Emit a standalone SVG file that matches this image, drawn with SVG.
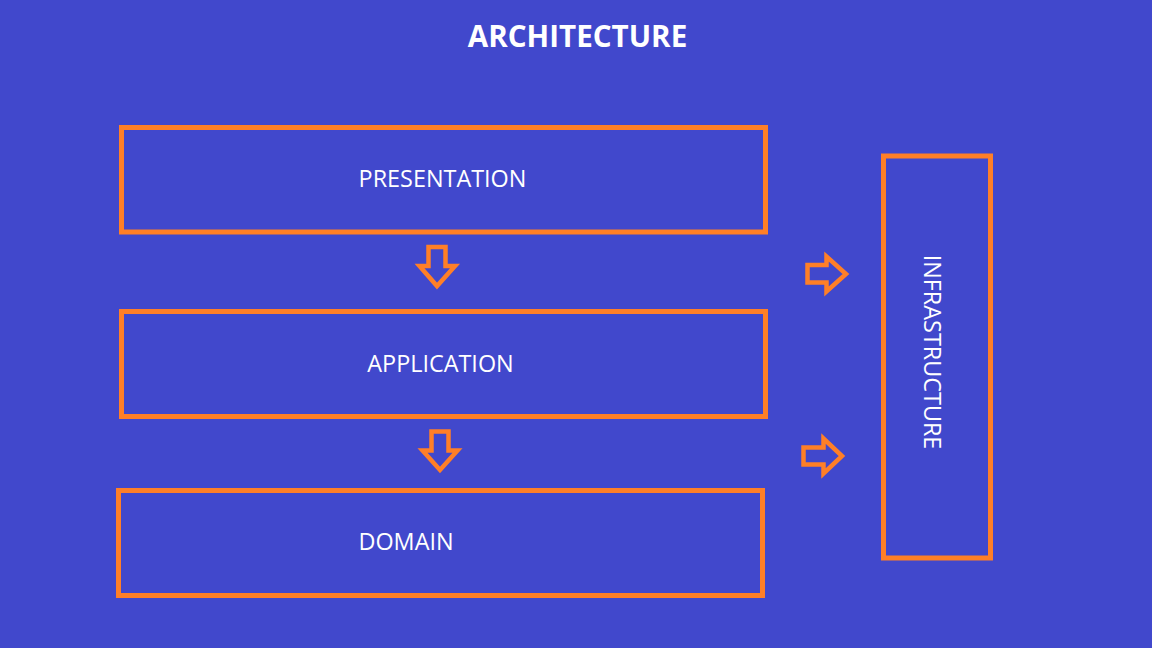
<svg xmlns="http://www.w3.org/2000/svg" width="1152" height="648" viewBox="0 0 1152 648">
<style>
.box{fill:none;stroke:#FF7F27;stroke-width:5}
.arr{fill:none;stroke:#FF7F27;stroke-width:4.5;stroke-linejoin:miter}
.lbl{font-family:"Open Sans","Noto Sans",sans-serif;font-size:23.4px;fill:#FFFFFF;text-anchor:middle}
.title{font-family:"Open Sans","Noto Sans",sans-serif;font-size:29.6px;font-weight:bold;fill:#FFFFFF;text-anchor:middle}
</style>
<rect width="1152" height="648" fill="#4148CC"/>
<text class="title" x="577.5" y="46.5">ARCHITECTURE</text>
<g id="presentation">
<rect class="box" x="121.5" y="127.5" width="644" height="104.5"/>
<text class="lbl" x="442.5" y="186.5">PRESENTATION</text>
</g>
<g id="application">
<rect class="box" x="121.5" y="311.5" width="644" height="105"/>
<text class="lbl" x="440.5" y="371.5">APPLICATION</text>
</g>
<g id="domain">
<rect class="box" x="118.5" y="490.5" width="644" height="105"/>
<text class="lbl" x="406" y="549.5">DOMAIN</text>
</g>
<g id="infrastructure">
<rect class="box" x="883.5" y="156" width="107" height="402"/>
<text class="lbl" transform="translate(924,352) rotate(90)" x="0" y="0">INFRASTRUCTURE</text>
</g>
<g id="connectors">
<path class="arr" d="M428.5,247 H445.5 V266 H455 L437,286 L419.5,266 H428.5 Z"/>
<path class="arr" d="M431.5,431.5 H448.5 V450.5 H457.5 L440,470 L422.5,450.5 H431.5 Z"/>
<path class="arr" d="M807.5,265 H826.5 V256.5 L846,274 L826.5,291.5 V282.5 H807.5 Z"/>
<path class="arr" d="M803.5,447.5 H823.5 V438.5 L842,456 L823.5,473.5 V464.5 H803.5 Z"/>
</g>
</svg>
